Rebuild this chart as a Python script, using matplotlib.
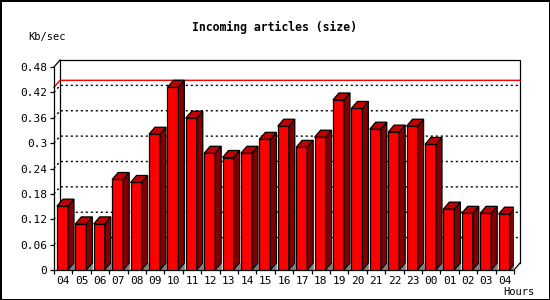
import matplotlib
matplotlib.use("Agg")
from matplotlib import pyplot as plt
from matplotlib.patches import Polygon
import numpy as np

hours = ["04", "05", "06", "07", "08", "09", "10", "11", "12", "13", "14", "15", "16",
         "17", "18", "19", "20", "21", "22", "23", "00", "01", "02", "03", "04"]
kbsec = [0.151, 0.109, 0.109, 0.214, 0.207, 0.321, 0.432, 0.359, 0.276, 0.266, 0.276,
         0.309, 0.340, 0.290, 0.314, 0.402, 0.382, 0.333, 0.326, 0.340, 0.297, 0.144,
         0.134, 0.134, 0.132]
yticks = [0, 0.06, 0.12, 0.18, 0.24, 0.3, 0.36, 0.42, 0.48]
ytick_labels = ["0", "0.06", "0.12", "0.18", "0.24", "0.3", "0.36", "0.42", "0.48"]

W, H = 550, 300
fig = plt.figure(figsize=(W / 100, H / 100), dpi=100, facecolor="white",
                 edgecolor="black", linewidth=2)
# front plane of the pseudo-3d box
x0, x1, y0, y1 = 54, 514, 270, 67
ax = fig.add_axes([x0 / W, 1 - y0 / H, (x1 - x0) / W, (y0 - y1) / H])
n = len(kbsec)
ymax = 0.48
ax.set_xlim(0, n)
ax.set_ylim(0, ymax)

# depth offset in data units (6px right, 7px up)
dx = 6 / ((x1 - x0) / n)
dy = 7 / ((y0 - y1) / ymax)
mono = "DejaVu Sans Mono"
lw = 0.9

for s in ["top", "right"]:
    ax.spines[s].set_visible(False)
for s in ["left", "bottom"]:
    ax.spines[s].set_linewidth(lw)

# back plane frame
ax.plot([dx, dx, n + dx, n + dx], [dy, ymax + dy, ymax + dy, dy], color="black",
        lw=lw, clip_on=False, zorder=1)
ax.plot([0, dx], [ymax, ymax + dy], color="black", lw=lw, clip_on=False, zorder=1)
ax.plot([n, n + dx], [0, dy], color="black", lw=lw, clip_on=False, zorder=1)

# dotted grid on back plane
for v in yticks[1:-1]:
    ax.plot([0, dx, n + dx], [v, v + dy, v + dy], color="black", lw=1,
            linestyle=(0, (1.5, 2.1)), clip_on=False, zorder=1)

# max line
vmax = max(kbsec)
ax.plot([0, dx, n + dx], [vmax, vmax + dy, vmax + dy], color="red", lw=1,
        clip_on=False, zorder=1.5)

# bars
off, bw = 0.16, 0.6
for i, v in enumerate(kbsec):
    l = i + off
    r = l + bw
    ax.add_patch(Polygon([(r, 0), (r + dx, 0), (r + dx, dy)], closed=True,
                         facecolor="#808080", edgecolor="#808080", lw=0.5, zorder=2))
    ax.add_patch(Polygon([(l, 0), (r, 0), (r, v), (l, v)], closed=True,
                         facecolor="#ff0000", edgecolor="black", lw=lw, zorder=3))
    ax.add_patch(Polygon([(r, 0), (r + dx, dy), (r + dx, v + dy), (r, v)], closed=True,
                         facecolor="#800000", edgecolor="black", lw=lw, zorder=3))
    ax.add_patch(Polygon([(l, v), (r, v), (r + dx, v + dy), (l + dx, v + dy)], closed=True,
                         facecolor="#c00000", edgecolor="black", lw=lw, zorder=3))

ax.set_yticks(yticks)
ax.set_yticklabels(ytick_labels, family=mono, fontsize=8)
ax.tick_params(axis="y", length=3, width=lw, pad=2)

ax.set_xticks(np.arange(n + 1))
ax.set_xticklabels([])
ax.set_xticks(np.arange(n) + 0.5, minor=True)
ax.set_xticklabels(hours, minor=True, family=mono, fontsize=8)
ax.tick_params(axis="x", which="major", length=3, width=lw)
ax.tick_params(axis="x", which="minor", length=0, pad=4)

fig.text(274 / W, 1 - 27 / H, "Incoming articles (size)", ha="center", va="center",
         family=mono, fontsize=8.3, fontweight="bold")
fig.text(28 / W, 1 - 37 / H, "Kb/sec", ha="left", va="center", family=mono, fontsize=7.5)
fig.text(534 / W, 1 - 292 / H, "Hours", ha="right", va="center", family=mono, fontsize=7.5)

fig.savefig("out.png", dpi=100)
